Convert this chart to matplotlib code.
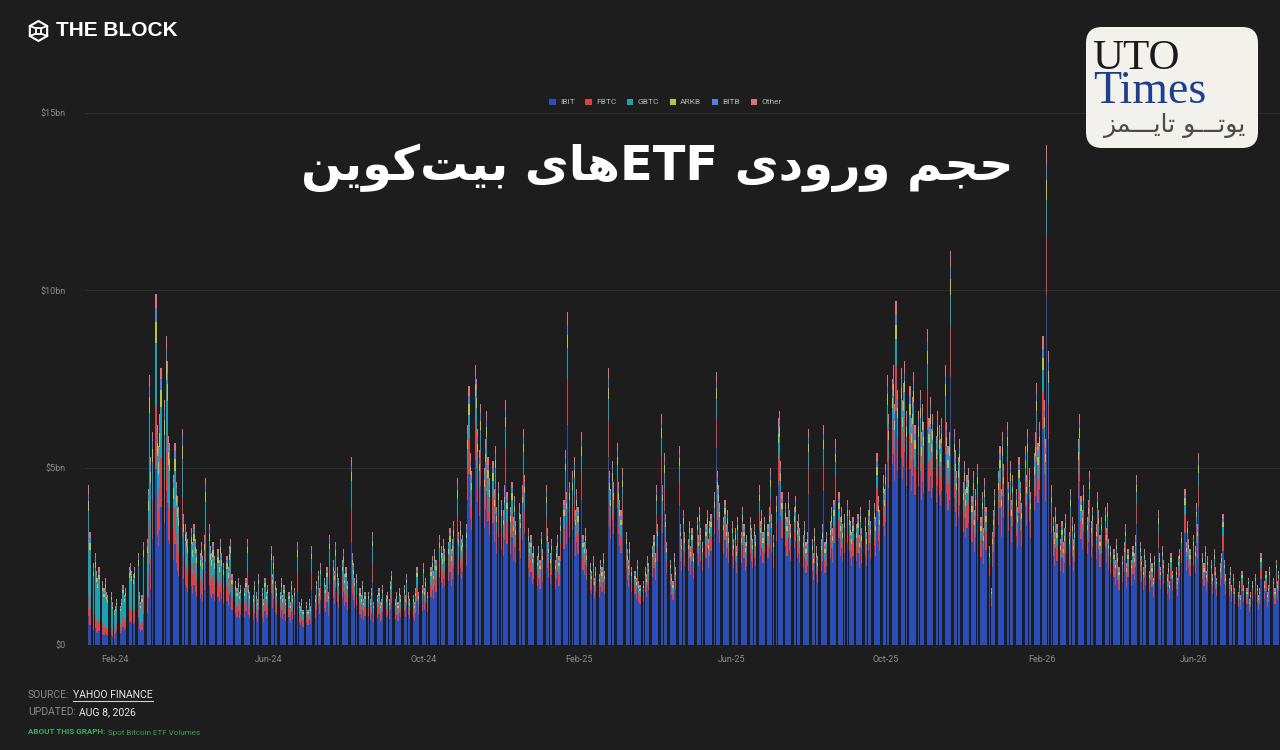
import re
import numpy as np
import pandas as pd
import matplotlib
matplotlib.use('Agg')
import matplotlib.pyplot as plt
from matplotlib.patches import Patch, FancyBboxPatch, RegularPolygon, Rectangle
from matplotlib.lines import Line2D
from matplotlib.transforms import IdentityTransform

# daily total volume, $bn (weekdays from 2024-01-11)
vol_2024 = [4.5, 3.2,
            2.3, 2.6, 2.1, 1.9, 2.2, 1.8, 1.6, 1.9, 1.5, 1.4,
            1.5, 1.2, 1.0, 1.1, 1.3, 1.1, 1.3, 1.7, 1.4, 1.6,
            2.2, 2.3, 2.1, 2.0, 2.2, 2.6, 1.5, 1.2, 1.4, 2.9,
            3.0, 4.4, 7.6, 5.3, 6.0, 9.9, 6.2, 5.6, 6.5, 7.8,
            6.9, 8.7, 8.0, 5.9, 5.7, 4.8, 5.7, 4.6, 4.2, 3.9,
            6.1, 3.7, 3.4, 3.2, 3.0, 3.3, 2.9, 3.4, 3.0, 2.7,
            2.6, 2.9, 2.5, 3.1, 4.7, 3.4, 2.8, 2.6, 2.9, 2.5,
            2.7, 2.4, 3.0, 2.6, 2.3, 2.5, 2.2, 2.8, 3.0, 2.0,
            1.8, 1.6, 1.9, 1.5, 1.7, 1.6, 1.9, 3.0, 1.7, 1.5,
            1.4, 1.8, 1.5, 1.3, 2.0, 1.6, 1.3, 1.9, 1.5, 1.7,
            2.8, 2.0, 2.5, 1.8, 1.6, 1.5, 1.9, 1.4, 1.7, 1.3,
            1.5, 1.2, 1.8, 1.4, 1.6, 2.9, 1.2, 1.1, 1.3, 1.0,
            1.2, 1.0, 1.3, 1.1, 2.8, 1.4, 1.8, 2.1, 1.6, 2.3,
            1.9, 1.7, 2.2, 1.5, 3.1, 2.4, 2.1, 2.9, 2.2, 1.9,
            2.4, 2.7, 2.0, 2.2, 1.8, 5.3, 2.6, 2.3, 1.9, 2.0,
            1.6, 1.4, 1.8, 1.3, 1.5, 1.5, 1.3, 1.6, 3.2, 1.2,
            1.4, 1.6, 1.2, 1.3, 1.7, 1.4, 1.5, 1.3, 1.8, 2.1,
            1.3, 1.5, 1.2, 1.6, 1.4, 1.7, 1.4, 2.0, 1.5, 1.3,
            1.4, 1.2, 1.6, 2.2, 1.5, 1.7, 2.3, 1.6, 1.9, 1.5,
            2.2, 2.5, 2.1, 2.7, 2.4, 3.1, 2.8, 2.6, 3.0, 2.7,
            2.9, 3.3, 2.7, 3.0, 3.5, 4.7, 3.2, 3.5, 3.0, 3.1,
            3.4, 6.2, 7.3, 5.4, 4.9, 7.9, 7.5, 6.1, 5.5, 6.8,
            5.0, 5.8, 6.6, 5.3, 4.7, 5.2, 4.4, 5.6, 3.9, 4.6,
            4.1, 3.8, 4.5, 6.9, 4.3, 3.9, 4.6, 3.6, 4.2, 3.5,
            4.0, 3.7, 4.5, 6.1, 4.8, 3.3, 2.9, 3.1, 2.6, 2.8,
            2.5, 2.8]
vol_2025 = [2.4, 3.2, 2.7,
            4.5, 3.3, 2.9, 2.6, 3.0, 2.4, 2.8, 3.1, 2.5, 3.6,
            4.1, 5.5, 4.3, 9.4, 4.6, 4.9, 5.3, 3.8, 4.4, 3.9,
            6.0, 3.1, 2.9, 3.3, 2.7, 2.3, 2.1, 2.5, 1.9, 2.2,
            2.0, 2.4, 2.2, 2.6, 2.1, 7.8, 4.9, 4.4, 5.2, 4.6,
            5.7, 4.6, 4.1, 3.8, 5.0, 3.2, 2.7, 2.4, 2.9, 2.2,
            2.1, 1.9, 2.4, 1.8, 1.7, 1.8, 2.2, 2.0, 2.5, 2.3,
            2.8, 3.1, 2.6, 4.5, 3.4, 6.5, 4.5, 5.4, 3.7, 2.9,
            2.4, 2.0, 1.8, 2.6, 2.2, 5.6, 3.4, 3.0, 3.8, 3.2,
            3.0, 3.5, 2.8, 3.3, 2.6, 3.6, 3.1, 3.9, 3.3, 2.9,
            3.4, 3.8, 3.0, 3.5, 3.7, 4.3, 7.7, 4.9, 4.5, 4.0,
            3.6, 4.1, 3.4, 3.8, 3.2, 3.5, 3.0, 3.3, 2.8, 3.6,
            3.2, 3.9, 3.4, 2.9, 3.1, 3.6, 3.3, 3.0, 3.4, 3.1,
            4.5, 3.5, 3.8, 3.2, 3.6, 3.4, 3.9, 5.0, 3.7, 3.1,
            4.2, 6.4, 6.6, 5.2, 4.3, 4.0, 3.6, 4.3, 3.8, 3.4,
            3.9, 4.2, 3.5, 3.7, 3.3, 3.1, 3.5, 2.9, 3.2, 6.1,
            3.0, 2.6, 3.3, 2.8, 2.5, 3.0, 3.4, 6.2, 2.9, 3.2,
            3.5, 3.9, 3.3, 4.1, 5.8, 4.3, 3.6, 3.9, 3.4, 3.7,
            4.1, 3.8, 3.5, 3.2, 3.6, 3.4, 3.7, 3.1, 3.9, 3.3,
            3.6, 3.2, 3.8, 4.1, 3.5, 4.0, 3.6, 5.4, 4.2, 3.8,
            4.8, 4.4, 5.1, 7.6, 6.5, 7.5, 7.9, 6.8, 9.7, 7.2,
            7.8, 6.9, 7.4, 8.0, 6.6, 7.3, 6.4, 7.0, 7.7, 6.2,
            6.6, 7.2, 6.0, 6.8, 6.3, 8.9, 6.4, 7.0, 6.1, 6.5,
            5.9, 6.6, 6.2, 5.8, 6.4, 7.9, 6.3, 5.6, 6.0, 11.1,
            6.1, 5.5, 4.9, 5.3, 5.8, 4.6, 5.2, 4.4, 4.8, 5.0,
            4.2, 4.9, 3.8, 4.4, 5.1, 3.6, 4.3, 3.3, 4.7, 3.9,
            2.8, 1.6, 3.2, 3.8, 4.4, 4.9, 5.6, 4.4]
vol_2026 = [6.0, 5.1,
            6.3, 4.6, 5.2, 4.1, 4.8, 4.4, 3.9, 5.3, 4.6, 4.0,
            5.6, 4.8, 6.1, 5.0, 4.3, 5.4, 6.0, 7.4, 5.7, 6.3,
            8.7, 6.9, 5.8, 14.1, 8.3, 4.5, 3.6, 3.2, 3.9, 3.4,
            3.0, 3.5, 2.9, 3.3, 3.7, 3.2, 4.4, 3.6, 3.0, 3.4,
            5.8, 6.5, 4.2, 3.8, 4.5, 3.6, 4.1, 4.9, 3.5, 3.9,
            3.4, 4.3, 3.8, 3.1, 3.6, 3.9, 3.3, 4.0, 3.0, 2.8,
            2.7, 2.4, 3.0, 2.6, 2.2, 2.5, 2.9, 3.4, 2.3, 2.7,
            2.4, 2.8, 2.6, 3.1, 4.8, 2.9, 2.5, 2.2, 2.7, 2.4,
            2.1, 2.6, 2.3, 1.9, 2.5, 3.8, 2.6, 2.2, 2.8, 2.4,
            2.0, 2.3, 1.8, 2.6, 2.1, 2.2, 1.9, 2.5, 2.7, 3.2,
            4.4, 2.9, 3.5, 3.0, 2.7, 3.1, 2.8, 4.0, 3.4, 5.4,
            2.6, 2.3, 2.8, 2.1, 2.5, 2.4, 2.0, 2.7, 2.2, 1.9,
            2.3, 2.6, 3.7, 2.4, 2.0, 1.9, 2.2, 1.7, 2.0, 1.6,
            1.5, 1.8, 1.4, 2.1, 1.7, 1.6, 1.9, 1.3, 1.5, 1.8,
            2.0, 1.7, 1.4, 1.6, 2.6, 1.8, 2.1, 1.5, 1.7, 2.2,
            1.9, 1.6, 2.4, 1.8, 2.1]

# monthly share of each fund (Jan-24 .. Aug-26)
ibit_share = [.18, .30, .50, .50, .50, .52, .55, .55, .56, .62, .66, .66,
              .66, .68, .68, .70, .72, .72, .70, .70, .70, .68, .68, .69,
              .70, .70, .71, .71, .72, .72, .72, .72]
fbtc_share = [.14, .16, .18, .18, .18, .18, .17, .17, .17, .15, .14, .14,
              .14, .13, .13, .12, .11, .11, .12, .12, .12, .13, .13, .13,
              .12, .12, .12, .12, .11, .11, .11, .11]
gbtc_share = [.52, .40, .18, .18, .18, .16, .15, .15, .14, .11, .09, .09,
              .09, .08, .08, .08, .07, .07, .07, .07, .07, .08, .08, .07,
              .07, .07, .07, .07, .07, .07, .07, .07]
arkb_share = [.06, .06, .06, .06, .06, .06, .05, .05, .05, .05, .04, .04,
              .04, .04, .04, .04, .04, .04, .04, .04, .04, .04, .04, .04,
              .04, .04, .04, .04, .04, .04, .04, .04]
bitb_share = [.04, .04, .04, .04, .04, .04, .04, .04, .04, .03, .03, .03,
              .03, .03, .03, .02, .02, .02, .03, .03, .03, .03, .03, .03,
              .03, .03, .02, .02, .02, .02, .02, .02]
other_share = [.06, .04, .04, .04, .04, .04, .04, .04, .04, .04, .04, .04,
               .04, .04, .04, .04, .04, .04, .04, .04, .04, .04, .04, .04,
               .04, .04, .04, .04, .04, .04, .04, .04]

funds = ['IBIT', 'FBTC', 'GBTC', 'ARKB', 'BITB', 'Other']
fund_colors = ['#2b4db8', '#d8434a', '#1f9fb0', '#b3c44a', '#5581d8', '#e0707a']
tick_months = ['2024-02-01', '2024-06-01', '2024-10-01', '2025-02-01',
               '2025-06-01', '2025-10-01', '2026-02-01', '2026-06-01']
tick_labels = ['Feb-24', 'Jun-24', 'Oct-24', 'Feb-25', 'Jun-25', 'Oct-25', 'Feb-26', 'Jun-26']
y_ticks = [0, 5, 10, 15]
y_labels = [r'\$0', r'\$5bn', r'\$10bn', r'\$15bn']

title_fa = 'حجم ورودی ETFهای بیت\u200cکوین'
logo_fa = 'یوتـــو تایـــمز'

BG = '#1d1d1d'
UI_FONT = ['Roboto', 'DejaVu Sans']

# arabic presentation forms: isolated, final, initial, medial
FORMS = {
    'ا': ('\uFE8D', '\uFE8E', None, None),
    'ب': ('\uFE8F', '\uFE90', '\uFE91', '\uFE92'),
    'ت': ('\uFE95', '\uFE96', '\uFE97', '\uFE98'),
    'ج': ('\uFE9D', '\uFE9E', '\uFE9F', '\uFEA0'),
    'ح': ('\uFEA1', '\uFEA2', '\uFEA3', '\uFEA4'),
    'د': ('\uFEA9', '\uFEAA', None, None),
    'ر': ('\uFEAD', '\uFEAE', None, None),
    'ز': ('\uFEAF', '\uFEB0', None, None),
    'ک': ('\uFED9', '\uFEDA', '\uFEDB', '\uFEDC'),
    'م': ('\uFEE1', '\uFEE2', '\uFEE3', '\uFEE4'),
    'ن': ('\uFEE5', '\uFEE6', '\uFEE7', '\uFEE8'),
    'ه': ('\uFEE9', '\uFEEA', '\uFEEB', '\uFEEC'),
    'و': ('\uFEED', '\uFEEE', None, None),
    'ی': ('\uFEEF', '\uFEF0', '\uFEF3', '\uFEF4'),
    '\u0640': ('\u0640', '\u0640', '\u0640', '\u0640'),
}


def rtl(text):
    out = []
    for i, ch in enumerate(text):
        if ch not in FORMS:
            if ch != '\u200c':
                out.append(ch)
            continue
        f = FORMS[ch]
        prev = text[i - 1] if i > 0 else ''
        nxt = text[i + 1] if i + 1 < len(text) else ''
        jp = prev in FORMS and FORMS[prev][2] is not None
        jn = f[2] is not None and nxt in FORMS
        out.append(f[3] if jp and jn else f[1] if jp else f[2] if jn else f[0])
    tokens = re.findall(r'[A-Za-z0-9]+|.', ''.join(out))
    return ''.join(reversed(tokens))


volume = np.array(vol_2024 + vol_2025 + vol_2026)
dates = pd.bdate_range('2024-01-11', periods=len(volume))
month_idx = (dates.year - 2024) * 12 + dates.month - 1
shares = [ibit_share, fbtc_share, gbtc_share, arkb_share, bitb_share, other_share]

fig = plt.figure(figsize=(12.8, 7.5), dpi=100, facecolor=BG)
ax = fig.add_axes([85 / 1280, 1 - 645 / 750, 1195 / 1280, 532 / 750], facecolor=BG)

bottom = np.zeros(len(volume))
for name, share, color in zip(funds, shares, fund_colors):
    vals = volume * np.array(share)[month_idx]
    ax.bar(dates, vals, bottom=bottom, width=0.9, color=color, linewidth=0, label=name)
    bottom += vals

ax.set_xlim(pd.Timestamp('2024-01-08'), pd.Timestamp('2024-01-08') + pd.Timedelta(days=943))
ax.set_ylim(0, 15)
ax.set_yticks(y_ticks)
ax.set_yticklabels(y_labels, family=UI_FONT)
ax.set_xticks(pd.to_datetime(tick_months))
ax.set_xticklabels(tick_labels, family=UI_FONT)
ax.tick_params(axis='y', length=0, colors='#8c8c8c', labelsize=6.5, pad=14)
ax.tick_params(axis='x', length=0, colors='#8c8c8c', labelsize=6.5, pad=7)
ax.grid(axis='y', color='#2c2c2c', linewidth=0.8)
ax.set_axisbelow(True)
for s in ax.spines.values():
    s.set_visible(False)

handles = [Patch(facecolor=c, edgecolor='none') for c in fund_colors]
fig.legend(handles, funds, loc='center', bbox_to_anchor=(0.52, 1 - 102 / 750), ncol=6,
           frameon=False, prop={'family': UI_FONT, 'size': 6}, labelcolor='#b5b5b5',
           handlelength=0.75, handleheight=0.75, handletextpad=0.5, columnspacing=1.3)

fig.text(657 / 1280, 1 - 168 / 750, rtl(title_fa), ha='center', va='center', color='white',
         fontsize=34.5, fontweight='bold', family=['DejaVu Sans'])

# THE BLOCK logo
icon = fig.add_axes([27 / 1280, 1 - 43 / 750, 23 / 1280, 24 / 750])
icon.set_xlim(-1.15, 1.15)
icon.set_ylim(-1.15, 1.15)
icon.set_aspect('equal')
icon.axis('off')
icon.add_patch(RegularPolygon((0, 0), 6, radius=1.0, orientation=0, fill=False, ec='white', lw=1.5))
icon.add_patch(Rectangle((-0.27, -0.27), 0.54, 0.54, fill=False, ec='white', lw=1.3))
for vx, vy, cx, cy in [(-0.87, 0.5, -0.27, 0.27), (0.87, 0.5, 0.27, 0.27),
                       (-0.87, -0.5, -0.27, -0.27), (0.87, -0.5, 0.27, -0.27)]:
    icon.plot([vx, cx], [vy, cy], color='white', lw=1.3)
fig.text(56 / 1280, 1 - 31 / 750, 'THE BLOCK', ha='left', va='center', color='white',
         fontsize=15, fontweight='bold', family=['Liberation Sans', 'DejaVu Sans'])

# UTO Times badge (pixel-like coordinates, y up from the badge bottom)
lg = fig.add_axes([1086 / 1280, 1 - 148 / 750, 172 / 1280, 121 / 750])
lg.set_xlim(0, 172)
lg.set_ylim(0, 121)
lg.axis('off')
lg.add_patch(FancyBboxPatch((0, 0), 172, 121, boxstyle='round,pad=0,rounding_size=16',
                            facecolor='#f3f1ec', edgecolor='none'))
lg.text(6, 79, 'UTO', ha='left', va='baseline', color='#1a1a1a', fontsize=31,
        family=['Liberation Serif', 'DejaVu Serif'])
lg.text(7, 45, 'Times', ha='left', va='baseline', color='#1d3f8c', fontsize=33,
        family=['Liberation Serif', 'DejaVu Serif'])
lg.text(88, 22, rtl(logo_fa), ha='center', va='center', color='#4a4a4a', fontsize=18,
        family=['DejaVu Sans'])

# footer
t1 = fig.text(28 / 1280, 1 - 695 / 750, 'SOURCE:', ha='left', va='center', color='#8a8a8a',
              fontsize=7.5, family=UI_FONT)
t2 = ax.annotate('YAHOO FINANCE', xy=(1, 0), xycoords=t1, xytext=(2.5, 0),
                 textcoords='offset points', va='bottom', ha='left', color='#e8e8e8',
                 fontsize=7.5, family=UI_FONT, annotation_clip=False)
t3 = fig.text(28 / 1280, 1 - 712 / 750, 'UPDATED:', ha='left', va='center', color='#8a8a8a',
              fontsize=7.5, family=UI_FONT)
ax.annotate('AUG 8, 2026', xy=(1, 0), xycoords=t3, xytext=(2.5, 0), textcoords='offset points',
            va='bottom', ha='left', color='#e8e8e8', fontsize=7.5, family=UI_FONT,
            annotation_clip=False)
t5 = fig.text(28 / 1280, 1 - 732 / 750, 'ABOUT THIS GRAPH:', ha='left', va='center',
              color='#3dae5b', fontsize=5.8, fontweight='bold', family=UI_FONT)
ax.annotate('Spot Bitcoin ETF Volumes', xy=(1, 0), xycoords=t5, xytext=(2, 0),
            textcoords='offset points', va='bottom', ha='left', color='#3a9d56',
            fontsize=5.8, family=UI_FONT, annotation_clip=False)

fig.canvas.draw()
bb = t2.get_window_extent()
fig.add_artist(Line2D([bb.x0, bb.x1], [bb.y0 - 0.5, bb.y0 - 0.5], color='#cfcfcf', lw=0.8,
                      transform=IdentityTransform()))

fig.savefig('out.png', dpi=100, facecolor=BG)
